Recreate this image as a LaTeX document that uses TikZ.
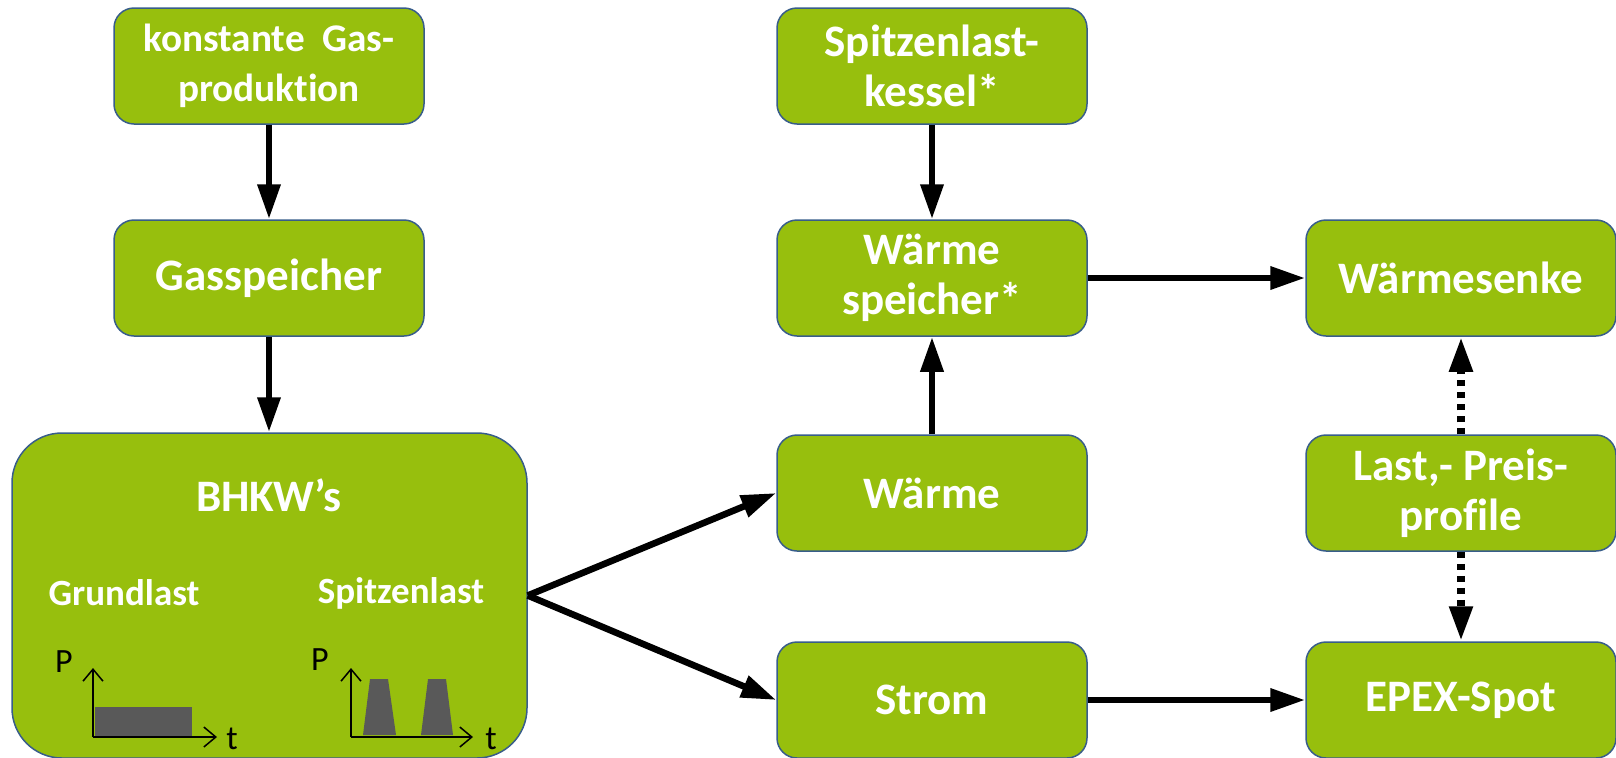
\documentclass[tikz,border=0pt]{standalone}
\usepackage{fontspec}
\setmainfont[Ligatures=NoCommon]{Carlito}
\usepackage{xcolor}
\usetikzlibrary{arrows.meta}
\definecolor{boxgreen}{RGB}{151,191,13}
\definecolor{boxblue}{RGB}{56,93,138}
\definecolor{curvegrey}{RGB}{89,89,89}

\begin{document}
\begin{tikzpicture}[x=0.5pt,y=-0.5pt,
  box/.style={draw=boxblue,fill=boxgreen,line width=0.75pt,rounded corners=10pt,
    minimum width=155pt,minimum height=58pt,inner sep=0pt,align=center,
    text=white,font=\bfseries\fontsize{22.5}{25}\selectfont},
  flow/.style={line width=3.3pt,-{Triangle[length=17.5pt,width=11pt]}},
  dots/.style={flow,line width=4pt,dash pattern=on 3pt off 3pt},
  axis/.style={line width=0.75pt,-{Straight Barb[length=6pt,width=10pt]}},
  inner/.style={text=white,font=\bfseries\fontsize{18.5}{22}\selectfont},
  axlabel/.style={inner sep=0.5pt,font=\fontsize{17}{20}\selectfont}]
  \useasboundingbox (0,0) rectangle (1616,757);
  % left column
  \node[box,font=\bfseries\fontsize{19.6}{25}\selectfont] (konst) at (269,66) {konstante\ \ Gas-\\produktion};
  \node[box] (gas) at (269,278) {Gasspeicher};
  \node[box,minimum width=257.5pt,minimum height=162.5pt,rounded corners=25pt] (bhkw) at (269.5,595.5) {};
  \node[inner,font=\bfseries\fontsize{22.5}{25}\selectfont] (bhkwlabel) at (269,495) {BHKW’s};
  \node[inner] (grund) at (124,593) {Grundlast};
  \node[inner] (spitze) at (401,593) {Spitzenlast};
  % small load curves
  \fill[curvegrey] (95,707) rectangle (192,737);
  \draw[axis] (93,737) -- (93,668);
  \draw[axis] (93,737) -- (217,737);
  \node[axlabel] (p1) at (64,662) {P};
  \node[axlabel,anchor=south] (t1) at (232,751) {t};
  \fill[curvegrey] (363,735) -- (370,679) -- (388,679) -- (396,735) -- cycle;
  \fill[curvegrey] (421,735) -- (428,679) -- (446,679) -- (453,735) -- cycle;
  \draw[axis] (351,737) -- (351,668);
  \draw[axis] (351,737) -- (473,737);
  \node[axlabel] (p2) at (320,660) {P};
  \node[axlabel,anchor=south] (t2) at (491,751) {t};
  % middle column
  \node[box] (kessel) at (932,66) {Spitzenlast-\\kessel*};
  \node[box] (wspeicher) at (932,278) {Wärme\\speicher*};
  \node[box] (waerme) at (932,493) {Wärme};
  \node[box] (strom) at (932,700) {Strom};
  % right column
  \node[box] (senke) at (1461,278) {Wärmesenke};
  \node[box] (profile) at (1461,493) {Last,- Preis-\\profile};
  \node[box] (epex) at (1461,700) {EPEX-Spot};
  % connectors
  \draw[flow] (konst) -- (gas);
  \draw[flow] (gas.south) -- (gas.south |- bhkw.north);
  \draw[flow] (bhkw.east) -- (waerme.west);
  \draw[flow] (bhkw.east) -- (strom.west);
  \draw[flow] (kessel) -- (wspeicher);
  \draw[flow] (waerme) -- (wspeicher);
  \draw[flow] (wspeicher) -- (senke);
  \draw[flow] (strom) -- (epex);
  \draw[dots] (profile) -- (senke);
  \draw[dots] (profile) -- (epex);
\end{tikzpicture}
\end{document}
